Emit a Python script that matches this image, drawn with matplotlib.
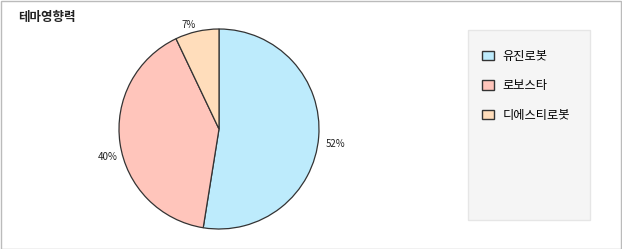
import matplotlib.pyplot as plt
from matplotlib.patches import Rectangle, Patch
from matplotlib.transforms import offset_copy

plt.rcParams['font.family'] = ['Noto Sans CJK KR', 'DejaVu Sans']

names = ['유진로봇', '로보스타', '디에스티로봇']
values = [52, 40, 7]
colors = ['#BDEBFC', '#FFC5BB', '#FFDDBB']

W, H = 622, 249
fig = plt.figure(figsize=(W / 100, H / 100), dpi=100)

# outer frame
fig.patches.append(Rectangle((0.5 / W, 0.5 / H), 1 - 2 / W, 1 - 2 / H,
                             transform=fig.transFigure, fill=False,
                             edgecolor='#BBBBBB', linewidth=1))

fig.text(18 / W, 1 - 18 / H, '테마영향력', fontsize=9, fontweight='bold',
         va='center', ha='left', color='#222222')

# pie: centre (219,129), radius 100 px
ax = fig.add_axes([119 / W, 20 / H, 200 / W, 200 / H])
wedges, texts = ax.pie(values, colors=colors, startangle=90, counterclock=False,
                       labels=['%d%%' % v for v in values], labeldistance=1.07,
                       wedgeprops=dict(edgecolor='#333333', linewidth=0.9),
                       textprops=dict(fontsize=7, color='#222222'))
# side labels sit a bit lower in the original
for t, dx, dy in zip(texts, [0, 5, 0], [-7, -13, 0]):
    t.set_transform(offset_copy(t.get_transform(), fig=fig, x=dx, y=dy, units='dots'))
ax.set_xlim(-1, 1)
ax.set_ylim(-1, 1)
ax.set_aspect('equal')
ax.axis('off')

# legend box
fig.patches.append(Rectangle((468 / W, 1 - 220 / H), 122 / W, 190 / H,
                             transform=fig.transFigure, facecolor='#F5F5F5',
                             edgecolor='#E6E6E6', linewidth=1))
handles = [Patch(facecolor=c, edgecolor='#333333', linewidth=1) for c in colors]
fig.legend(handles, names, loc='upper left', bbox_to_anchor=(482 / W, 1 - 50 / H),
           frameon=False, fontsize=8.8, handlelength=0.95, handleheight=0.8,
           handletextpad=0.75, labelspacing=1.33, borderpad=0, borderaxespad=0)

fig.savefig('out.png', dpi=100)
